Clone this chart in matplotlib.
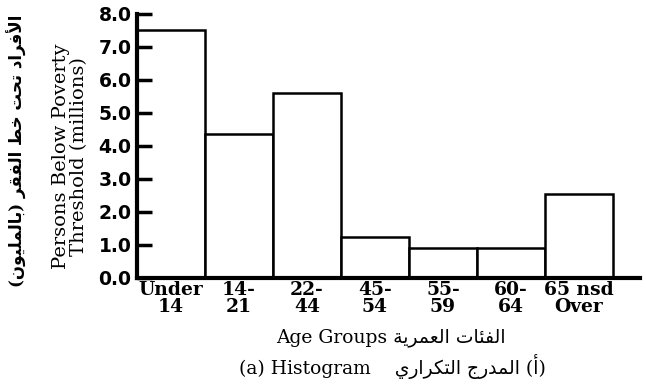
import matplotlib
matplotlib.use("Agg")
import matplotlib.pyplot as plt

# --- Data ---
age_groups = ["Under\n14", "14-\n21", "22-\n44", "45-\n54", "55-\n59", "60-\n64", "65 nsd\nOver"]
persons_millions = [7.5, 4.35, 5.6, 1.25, 0.9, 0.9, 2.55]
y_ticks = [0.0, 1.0, 2.0, 3.0, 4.0, 5.0, 6.0, 7.0, 8.0]

ylabel_en = "Persons Below Poverty\nThreshold (millions)"
ylabel_ar = "الأفراد تحت خط الفقر (بالمليون)"
xlabel_en = "Age Groups"
xlabel_ar = "الفئات العمرية"
caption_en = "(a) Histogram"
caption_ar = "(أ) المدرج التكراري"

# --- minimal Arabic shaping (matplotlib has no complex text layout) ---
# letter: (isolated, final, initial, medial); None = does not join forward
FORMS = {
    'ا': ('\uFE8D', '\uFE8E', None, None),
    'أ': ('\uFE83', '\uFE84', None, None),
    'ب': ('\uFE8F', '\uFE90', '\uFE91', '\uFE92'),
    'ة': ('\uFE93', '\uFE94', None, None),
    'ت': ('\uFE95', '\uFE96', '\uFE97', '\uFE98'),
    'ج': ('\uFE9D', '\uFE9E', '\uFE9F', '\uFEA0'),
    'ح': ('\uFEA1', '\uFEA2', '\uFEA3', '\uFEA4'),
    'خ': ('\uFEA5', '\uFEA6', '\uFEA7', '\uFEA8'),
    'د': ('\uFEA9', '\uFEAA', None, None),
    'ر': ('\uFEAD', '\uFEAE', None, None),
    'ط': ('\uFEC1', '\uFEC2', '\uFEC3', '\uFEC4'),
    'ع': ('\uFEC9', '\uFECA', '\uFECB', '\uFECC'),
    'ف': ('\uFED1', '\uFED2', '\uFED3', '\uFED4'),
    'ق': ('\uFED5', '\uFED6', '\uFED7', '\uFED8'),
    'ك': ('\uFED9', '\uFEDA', '\uFEDB', '\uFEDC'),
    'ل': ('\uFEDD', '\uFEDE', '\uFEDF', '\uFEE0'),
    'م': ('\uFEE1', '\uFEE2', '\uFEE3', '\uFEE4'),
    'ن': ('\uFEE5', '\uFEE6', '\uFEE7', '\uFEE8'),
    'و': ('\uFEED', '\uFEEE', None, None),
    'ي': ('\uFEF1', '\uFEF2', '\uFEF3', '\uFEF4'),
    'ئ': ('\uFE89', '\uFE8A', '\uFE8B', '\uFE8C'),
}
LAM_ALEF = {'ا': ('\uFEFB', '\uFEFC'), 'أ': ('\uFEF7', '\uFEF8')}
MIRROR = {'(': ')', ')': '('}


def rtl(text):
    units = []
    i = 0
    while i < len(text):
        c = text[i]
        if c == 'ل' and i + 1 < len(text) and text[i + 1] in LAM_ALEF:
            units.append(('LA', text[i + 1]))
            i += 2
        else:
            units.append(('C', c))
            i += 1

    def is_ar(u):
        return u is not None and (u[0] == 'LA' or u[1] in FORMS)

    def joins_fwd(u):
        return u is not None and u[0] == 'C' and u[1] in FORMS and FORMS[u[1]][2] is not None

    out = []
    for k, u in enumerate(units):
        prev = units[k - 1] if k > 0 else None
        nxt = units[k + 1] if k + 1 < len(units) else None
        jp = joins_fwd(prev)
        if u[0] == 'LA':
            out.append(LAM_ALEF[u[1]][1 if jp else 0])
            continue
        c = u[1]
        if c not in FORMS:
            out.append(c)
            continue
        iso, fin, ini, med = FORMS[c]
        jn = ini is not None and is_ar(nxt)
        if jp and jn:
            out.append(med)
        elif jp:
            out.append(fin)
        elif jn:
            out.append(ini)
        else:
            out.append(iso)
    return "".join(MIRROR.get(c, c) for c in reversed(out))


FAM = ['DejaVu Serif', 'DejaVu Sans']
plt.rcParams['font.family'] = FAM

fig = plt.figure(figsize=(6.46, 3.86), dpi=100)
ax = fig.add_axes([0.212, 0.280, 0.779, 0.684])

x = list(range(len(age_groups)))
ax.bar([i + 0.5 for i in x], persons_millions, width=1.0,
       facecolor='white', edgecolor='black', linewidth=1.8)

ax.set_xlim(0, 7.4)
ax.set_ylim(0, 8.0)
ax.set_yticks(y_ticks)
ax.set_yticklabels([f"{v:.1f}" for v in y_ticks], fontsize=13.5, fontweight='bold',
                   family=['DejaVu Sans'])
ax.set_xticks([i + 0.5 for i in x])
ax.set_xticklabels(age_groups, fontsize=13.5, fontweight='bold', linespacing=0.95)

ax.tick_params(axis='y', direction='in', length=11, width=2.5, pad=4)
ax.tick_params(axis='x', length=0, pad=2)
for s in ['top', 'right']:
    ax.spines[s].set_visible(False)
ax.spines['left'].set_linewidth(3)
ax.spines['bottom'].set_linewidth(3)

fig.text(0.108, 0.595, ylabel_en, rotation=90, ha='center', va='center',
         fontsize=14, linespacing=1.0)
fig.text(0.027, 0.61, rtl(ylabel_ar), rotation=90, ha='center', va='center',
         fontsize=12, fontweight='bold', family=FAM)

fig.text(0.605, 0.125, xlabel_en + " " + rtl(xlabel_ar), ha='center', va='center',
         fontsize=13.5, family=FAM)
fig.text(0.608, 0.05, caption_en + "    " + rtl(caption_ar), ha='center', va='center',
         fontsize=13.5, family=FAM)

fig.savefig("out.png", dpi=100, facecolor='white')
